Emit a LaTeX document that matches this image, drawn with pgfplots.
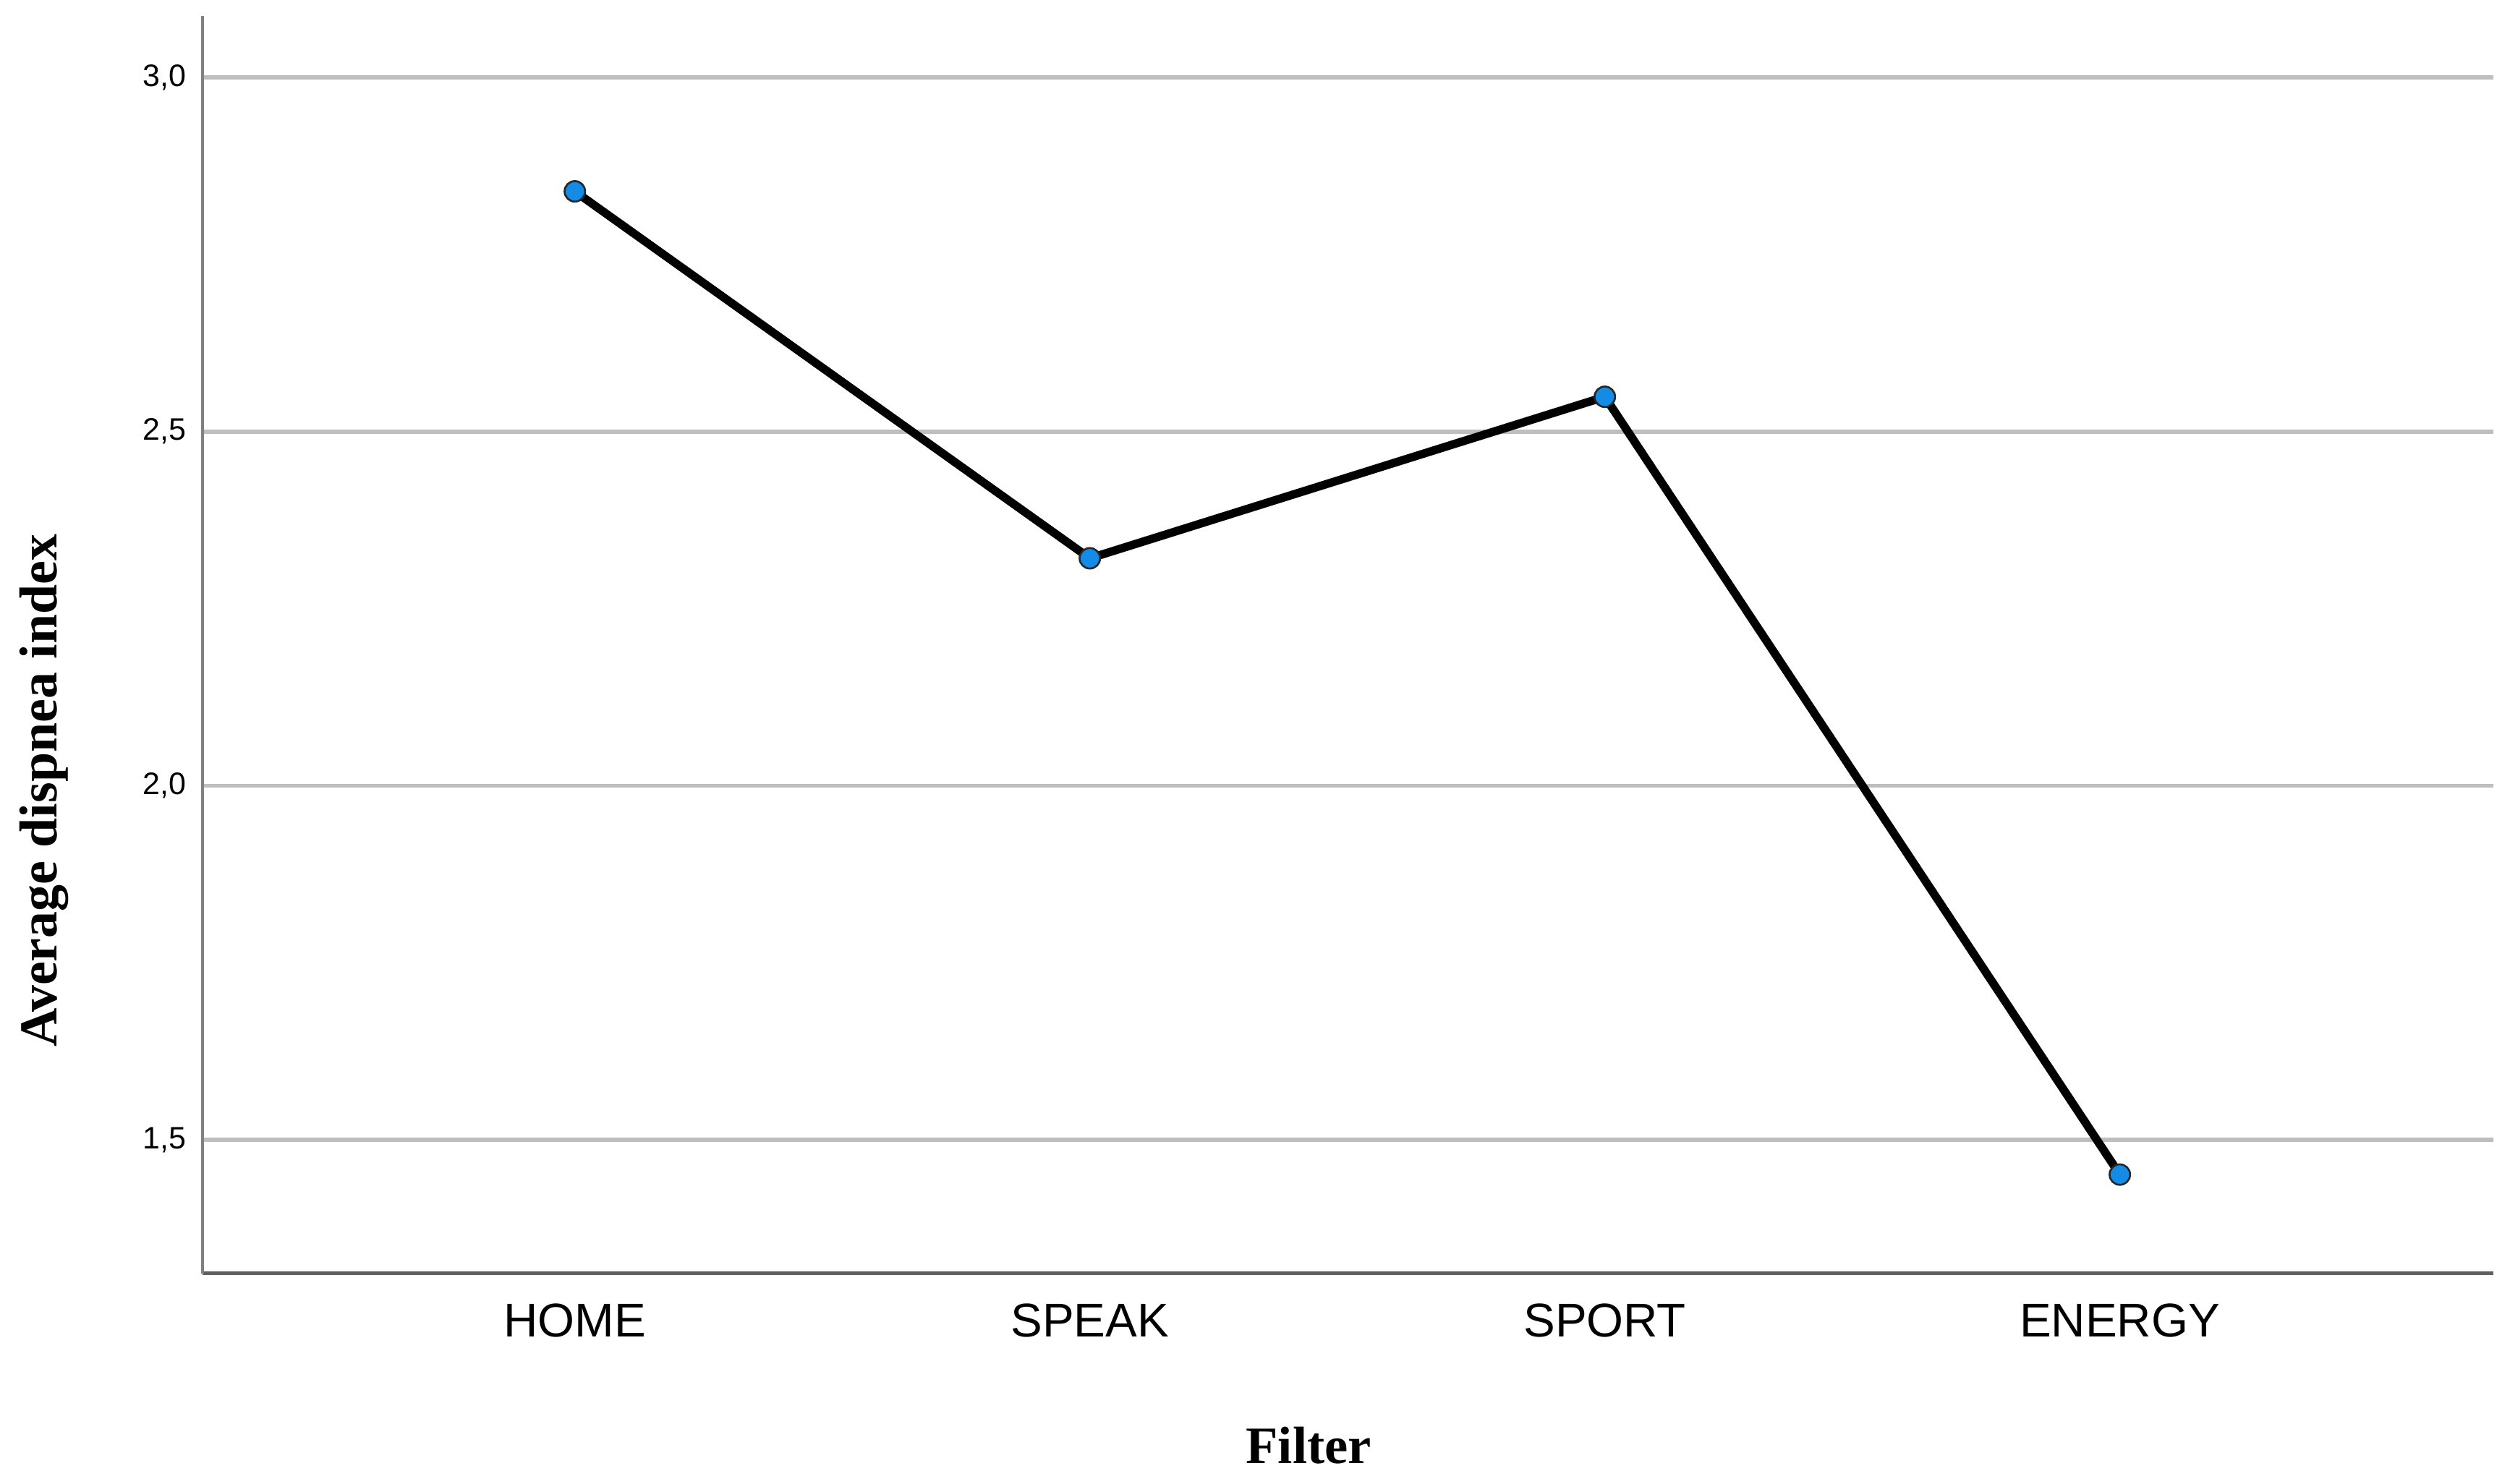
\documentclass[border=0pt]{standalone}
\usepackage{fontspec}
\setmainfont{Liberation Serif}
\newfontfamily\arial{Liberation Sans}
\usepackage{pgfplots}
\pgfplotsset{compat=1.18}
\definecolor{ptblue}{RGB}{20,140,230}
\definecolor{gridgray}{RGB}{190,190,190}
\definecolor{spinex}{RGB}{96,96,96}
\definecolor{spiney}{RGB}{128,128,128}
\begin{document}
\begin{tikzpicture}
% picture frame: 784pt x 463.5pt, axis box corner at origin
\path[use as bounding box] (-63.25pt,-65.7pt) rectangle (720.75pt,397.8pt);
\begin{axis}[
    at={(0,0)}, anchor=south west,
    scale only axis,
    width=715.5pt,
    height=392.9pt,
    xmin=0.277, xmax=4.725,
    ymin=1.3116, ymax=3.087,
    axis x line=bottom,
    axis y line=left,
    axis line style={-},
    x axis line style={spinex, line width=1pt},
    y axis line style={spiney, line width=1pt},
    xtick={1,2,3,4},
    xticklabels={HOME,SPEAK,SPORT,ENERGY},
    ytick={1.5,2,2.5,3},
    yticklabels={{1,5},{2,0},{2,5},{3,0}},
    major tick length=0pt,
    ymajorgrids,
    grid style={gridgray, line width=1.3pt},
    xticklabel style={font=\arial\fontsize{14.8}{17}\selectfont, anchor=north, inner sep=0pt, yshift=-9.3pt},
    yticklabel style={font=\arial\fontsize{9.7}{11}\selectfont, anchor=east, inner sep=0pt, xshift=-5pt},
    clip=false,
]
\addplot[black, line width=2.6pt, mark=*, mark size=3.2pt,
    mark options={fill=ptblue, draw=black!85, line width=0.6pt}]
    coordinates {(1,2.839) (2,2.321) (3,2.549) (4,1.451)};
\end{axis}
\node[rotate=90, anchor=base, font=\bfseries\fontsize{16.7}{20}\selectfont] at (-45.5pt,150.8pt) {Average dispnea index};
\node[anchor=base, font=\bfseries\fontsize{16.4}{20}\selectfont] at (345.5pt,-59.4pt) {Filter};
\end{tikzpicture}
\end{document}
